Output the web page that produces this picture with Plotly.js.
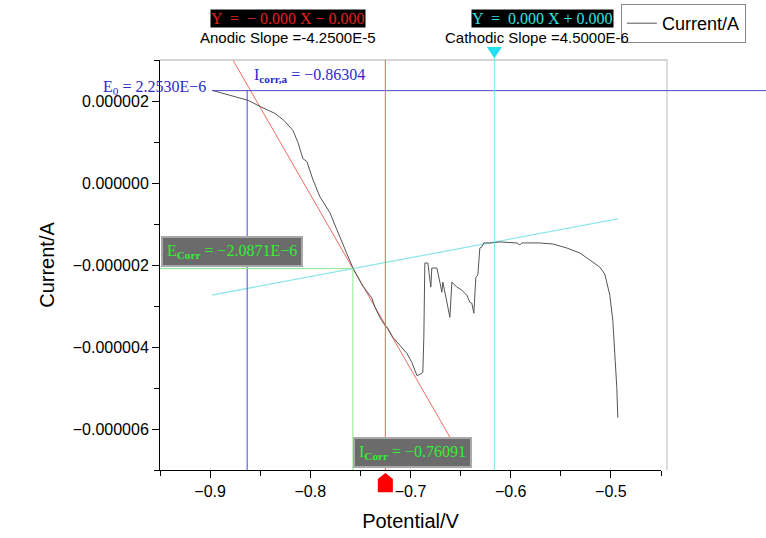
<!DOCTYPE html>
<html>
<head>
<meta charset="utf-8">
<script src="https://cdn.plot.ly/plotly-3.0.1.min.js"></script>
<style>
html,body{margin:0;padding:0;background:#fff;}
#chart{width:766px;height:538px;}
</style>
</head>
<body>
<div id="chart"></div>
<script>
// ---- measured curve (Potential/V vs Current/A) ----
const potential = [-0.8981,-0.8802,-0.8622,-0.8503,-0.8353,-0.8263,-0.8173,-0.8123,-0.8074,-0.8034,
  -0.7974,-0.7904,-0.7804,-0.7734,-0.7635,-0.7575,-0.7475,-0.7385,-0.7355,-0.7306,
  -0.7256,-0.7226,-0.7176,-0.7106,-0.7036,-0.6986,-0.6956,-0.6936,-0.6907,-0.6877,
  -0.6867,-0.6857,-0.6827,-0.6797,-0.6787,-0.6737,-0.6707,-0.6687,-0.6677,-0.6657,
  -0.6607,-0.6587,-0.6537,-0.6488,-0.6438,-0.6408,-0.6388,-0.6368,-0.6348,-0.6328,
  -0.6308,-0.6288,-0.6268,-0.6208,-0.6108,-0.5939,-0.5909,-0.5889,-0.5710,-0.5580,
  -0.5440,-0.5310,-0.5181,-0.5111,-0.5061,-0.5011,-0.4981,-0.4961,-0.4941,-0.4931];
const current = [2.261e-6,2.138e-6,2.016e-6,1.869e-6,1.697e-6,1.526e-6,1.281e-6,0.987e-6,0.595e-6,0.522e-6,
  0.081e-6,-0.336e-6,-0.727e-6,-1.144e-6,-1.707e-6,-2.074e-6,-2.515e-6,-2.809e-6,-3.030e-6,-3.275e-6,
  -3.470e-6,-3.544e-6,-3.764e-6,-3.960e-6,-4.156e-6,-4.377e-6,-4.573e-6,-4.695e-6,-4.671e-6,-4.622e-6,
  -3.764e-6,-1.952e-6,-1.952e-6,-2.540e-6,-2.074e-6,-2.074e-6,-2.417e-6,-2.662e-6,-2.417e-6,-2.687e-6,
  -3.275e-6,-2.417e-6,-2.540e-6,-2.613e-6,-2.736e-6,-2.907e-6,-2.932e-6,-3.177e-6,-2.295e-6,-2.246e-6,
  -1.585e-6,-1.560e-6,-1.462e-6,-1.462e-6,-1.438e-6,-1.462e-6,-1.511e-6,-1.462e-6,-1.462e-6,-1.487e-6,
  -1.585e-6,-1.707e-6,-1.928e-6,-2.050e-6,-2.221e-6,-2.736e-6,-3.348e-6,-4.156e-6,-4.989e-6,-5.724e-6];

// ---- Tafel fit lines ----
const anodicX = [-0.877, -0.655];
const anodicY = [2.99e-6, -6.44e-6];
const cathodicX = [-0.8981, -0.4931];
const cathodicY = [-2.733e-6, -0.874e-6];

// ---- marker values ----
const E0 = 2.253e-6;          // blue horizontal
const E0x = -0.863;           // blue vertical
const E0start = -0.8981;
const EcorrY = -2.0871e-6;    // green horizontal
const corrX = -0.7575;        // green vertical
const redX = -0.7251;         // red cursor
const cyanX = -0.6163;        // cyan cursor

// ---- texts ----
const anodicEq = "Y  =  − 0.000 X − 0.000";
const anodicSlopeText = "Anodic Slope =-4.2500E-5";
const cathodicEq = "Y  =  0.000 X + 0.000";
const cathodicSlopeText = "Cathodic Slope =4.5000E-6";
const e0Text = "E<sub>0</sub> = 2.2530E−6";
const icorrAText = "I<sub><b>corr,a</b></sub> = −0.86304";
const ecorrText = "E<sub><b>Corr</b></sub> = −2.0871E−6";
const icorrText = "I<sub><b>Corr</b></sub> = −0.76091";

const serif = "Liberation Serif, Times New Roman, serif";
const sans = "Liberation Sans, Arial, sans-serif";

const traces = [
  {x: anodicX, y: anodicY, mode: 'lines', line: {color: '#ef6b63', width: 1}, showlegend: false, hoverinfo: 'skip'},
  {x: cathodicX, y: cathodicY, mode: 'lines', line: {color: '#8fe6ec', width: 1.3}, showlegend: false, hoverinfo: 'skip'},
  {x: potential, y: current, mode: 'lines', name: 'Current/A', line: {color: '#555555', width: 1}}
];

const shapes = [
  // frame top and right (light grey)
  {type: 'line', xref: 'paper', yref: 'paper', x0: 0, x1: 1.013, y0: 1, y1: 1, line: {color: '#aaaaaa', width: 1}},
  {type: 'line', xref: 'paper', yref: 'paper', x0: 1.012, x1: 1.012, y0: 0, y1: 1, line: {color: '#bbbbbb', width: 1}},
  // blue E0 lines
  {type: 'line', xref: 'x', yref: 'y', x0: E0x, x1: E0x, y0: E0, y1: -7e-6, line: {color: '#4a4ad0', width: 1}},
  {type: 'line', xref: 'paper', yref: 'y', x0: 0.1038, x1: 1.3, y0: E0, y1: E0, line: {color: '#4a4ad0', width: 1}},
  // green Ecorr lines
  {type: 'line', xref: 'x', yref: 'y', x0: -0.95, x1: corrX, y0: EcorrY, y1: EcorrY, line: {color: '#90e890', width: 1}},
  {type: 'line', xref: 'x', yref: 'y', x0: corrX, x1: corrX, y0: EcorrY, y1: -7e-6, line: {color: '#90e890', width: 1}},
  // red cursor
  {type: 'line', xref: 'x', yref: 'paper', x0: redX, x1: redX, y0: 0, y1: 1, line: {color: '#ff5a5a', width: 1}},
  {type: 'path', xref: 'x', yref: 'paper',
   path: `M ${redX-0.0075},-0.054 L ${redX-0.0075},-0.022 L ${redX},-0.0073 L ${redX+0.0075},-0.022 L ${redX+0.0075},-0.054 Z`,
   fillcolor: '#ff0000', line: {width: 0}},
  // cyan cursor
  {type: 'line', xref: 'x', yref: 'paper', x0: cyanX, x1: cyanX, y0: 0, y1: 1.005, line: {color: '#7fe0e8', width: 1}},
  {type: 'path', xref: 'x', yref: 'paper',
   path: `M ${cyanX-0.0075},1.032 L ${cyanX+0.0075},1.032 L ${cyanX},1.004 Z`,
   fillcolor: '#22e0f0', line: {width: 0}}
];

const annotations = [
  {xref: 'paper', yref: 'paper', x: 0.2555, y: 1.1024, text: anodicEq, showarrow: false,
   font: {family: serif, size: 16, color: '#e02020'}, bgcolor: '#000000', borderpad: 0, xanchor: 'center', yanchor: 'middle'},
  {xref: 'paper', yref: 'paper', x: 0.2555, y: 1.0537, text: anodicSlopeText, showarrow: false,
   font: {family: sans, size: 15, color: '#000'}, xanchor: 'center', yanchor: 'middle'},
  {xref: 'paper', yref: 'paper', x: 0.7625, y: 1.1024, text: cathodicEq, showarrow: false,
   font: {family: serif, size: 16, color: '#33e0e0'}, bgcolor: '#000000', borderpad: 0, xanchor: 'center', yanchor: 'middle'},
  {xref: 'paper', yref: 'paper', x: 0.7525, y: 1.0537, text: cathodicSlopeText, showarrow: false,
   font: {family: sans, size: 15, color: '#000'}, xanchor: 'center', yanchor: 'middle'},
  {xref: 'x', yref: 'y', x: E0start, y: E0, xshift: -4, yshift: 3, text: e0Text, showarrow: false,
   font: {family: serif, size: 16, color: '#2a2acc'}, xanchor: 'right', yanchor: 'middle'},
  {xref: 'paper', yref: 'paper', x: 0.1836, y: 0.961, text: icorrAText, showarrow: false,
   font: {family: serif, size: 16, color: '#2a2acc'}, xanchor: 'left', yanchor: 'middle'},
  {xref: 'paper', yref: 'paper', x: 0.1447, y: 0.533, text: ecorrText, showarrow: false,
   font: {family: serif, size: 16, color: '#33ee33'}, bgcolor: '#6b6b6b', bordercolor: '#a8a8a8', borderwidth: 2, borderpad: 4,
   xanchor: 'center', yanchor: 'middle'},
  {xref: 'paper', yref: 'paper', x: 0.504, y: 0.0427, text: icorrText, showarrow: false,
   font: {family: serif, size: 16, color: '#33ee33'}, bgcolor: '#6b6b6b', bordercolor: '#a8a8a8', borderwidth: 2, borderpad: 4,
   xanchor: 'center', yanchor: 'middle'}
];

const layout = {
  width: 766, height: 538,
  margin: {l: 160, r: 105, t: 60, b: 68, autoexpand: false},
  paper_bgcolor: '#ffffff', plot_bgcolor: '#ffffff',
  font: {family: sans, size: 16, color: '#000'},
  showlegend: true,
  legend: {x: 0.92, y: 1.1366, xanchor: 'left', yanchor: 'top', bordercolor: '#888', borderwidth: 1,
           bgcolor: '#fff', font: {family: sans, size: 18, color: '#000'}, tracegroupgap: 0},
  xaxis: {
    range: [-0.95, -0.45], tick0: -0.9, dtick: 0.1, tickformat: '.1f',
    showgrid: false, zeroline: false, showline: true, linecolor: '#000', linewidth: 1,
    ticks: 'outside', ticklen: 7, tickcolor: '#000', tickwidth: 1,
    minor: {dtick: 0.05, tick0: -0.95, ticks: 'outside', ticklen: 5, tickcolor: '#000', showgrid: false},
    tickfont: {family: sans, size: 16, color: '#000'},
    title: {text: 'Potential/V', font: {family: sans, size: 20, color: '#000'}, standoff: 14},
    automargin: false
  },
  yaxis: {
    range: [-7e-6, 3e-6], tick0: 0, dtick: 2e-6, tickformat: '.6f',
    showgrid: false, zeroline: false, showline: true, linecolor: '#000', linewidth: 1,
    ticks: 'outside', ticklen: 7, tickcolor: '#000', tickwidth: 1,
    minor: {dtick: 1e-6, tick0: 0, ticks: 'outside', ticklen: 5, tickcolor: '#000', showgrid: false},
    tickfont: {family: sans, size: 16, color: '#000'},
    title: {text: 'Current/A', font: {family: sans, size: 20, color: '#000'}, standoff: 12},
    automargin: false
  },
  shapes: shapes,
  annotations: annotations
};

Plotly.newPlot('chart', traces, layout, {displayModeBar: false, staticPlot: true});
</script>
</body>
</html>
